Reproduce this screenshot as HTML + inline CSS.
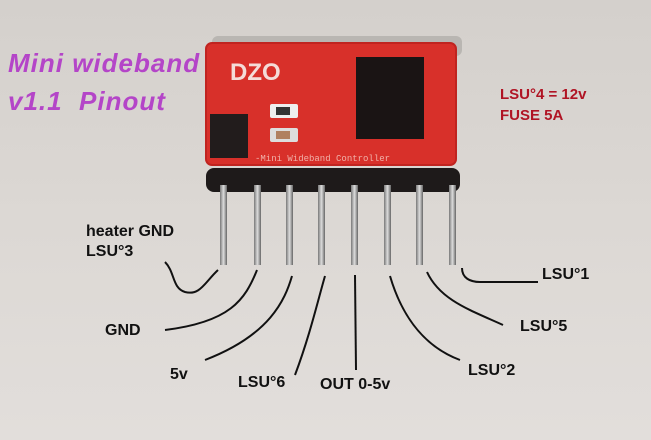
<!DOCTYPE html>
<html><head><style>
body{margin:0;width:651px;height:440px;overflow:hidden;background:linear-gradient(180deg,#d4d0cc 0%,#dcd8d4 50%,#e2dedb 100%);font-family:"Liberation Sans",sans-serif;position:relative}
.t{position:absolute;font-weight:bold;font-size:16px;color:#111;white-space:nowrap}
</style></head><body>
<svg width="651" height="440" style="position:absolute;left:0;top:0">
<defs><linearGradient id="pin" x1="0" x2="1"><stop offset="0" stop-color="#777"/><stop offset=".5" stop-color="#ddd"/><stop offset="1" stop-color="#666"/></linearGradient></defs>
<rect x="212" y="36" width="250" height="20" fill="#b9b6b2" rx="6"/>
<rect x="206" y="43" width="250" height="122" rx="6" fill="#d8302a"/>
<rect x="206" y="43" width="250" height="122" rx="6" fill="none" stroke="#c02420" stroke-width="2"/>
<rect x="356" y="57" width="68" height="82" fill="#1a1414"/>
<rect x="210" y="114" width="38" height="44" fill="#221c1c"/>
<rect x="270" y="104" width="28" height="14" fill="#eee" rx="2"/><rect x="276" y="107" width="14" height="8" fill="#333"/>
<rect x="270" y="128" width="28" height="14" fill="#ddd" rx="2"/><rect x="276" y="131" width="14" height="8" fill="#b08060"/>
<text x="230" y="80" font-family="Liberation Sans" font-weight="bold" font-size="24" fill="#f4dcd8">DZO</text>
<text x="255" y="161" font-family="Liberation Mono" font-size="9" fill="#f0b0a8">-Mini Wideband Controller</text>
<rect x="206" y="168" width="254" height="24" rx="8" fill="#1e1a1a"/>
<g fill="url(#pin)">
<rect x="220" y="185" width="7" height="80"/><rect x="254" y="185" width="7" height="80"/><rect x="286" y="185" width="7" height="80"/><rect x="318" y="185" width="7" height="80"/><rect x="351" y="185" width="7" height="80"/><rect x="384" y="185" width="7" height="80"/><rect x="416" y="185" width="7" height="80"/><rect x="449" y="185" width="7" height="80"/>
</g>
<g fill="none" stroke="#111" stroke-width="2">
<path d="M218,270 C205,282 200,296 185,292 C172,288 175,272 165,262"/>
<path d="M257,270 C245,300 230,322 165,330"/>
<path d="M292,276 C285,300 270,335 205,360"/>
<path d="M325,276 C318,300 310,335 295,375"/>
<path d="M355,275 L356,370"/>
<path d="M390,276 C400,310 420,345 460,360"/>
<path d="M427,272 C440,300 470,310 503,325"/>
<path d="M462,268 C462,278 470,282 480,282 L538,282"/>
</g>
</svg>
<div class="t" style="left:8px;top:44px;font-size:26px;font-style:italic;color:#b445c8;line-height:38px;letter-spacing:1px">Mini wideband<br>v1.1&nbsp; Pinout</div>
<div class="t" style="left:500px;top:84px;color:#b01424;line-height:21px;font-size:15px">LSU°4 = 12v<br>FUSE 5A</div>
<div class="t" style="left:86px;top:222px;line-height:20px">heater GND<br>LSU°3</div>
<div class="t" style="left:105px;top:322px">GND</div>
<div class="t" style="left:170px;top:366px">5v</div>
<div class="t" style="left:238px;top:374px">LSU°6</div>
<div class="t" style="left:320px;top:376px">OUT 0-5v</div>
<div class="t" style="left:468px;top:362px">LSU°2</div>
<div class="t" style="left:520px;top:318px">LSU°5</div>
<div class="t" style="left:542px;top:266px">LSU°1</div>
</body></html>
